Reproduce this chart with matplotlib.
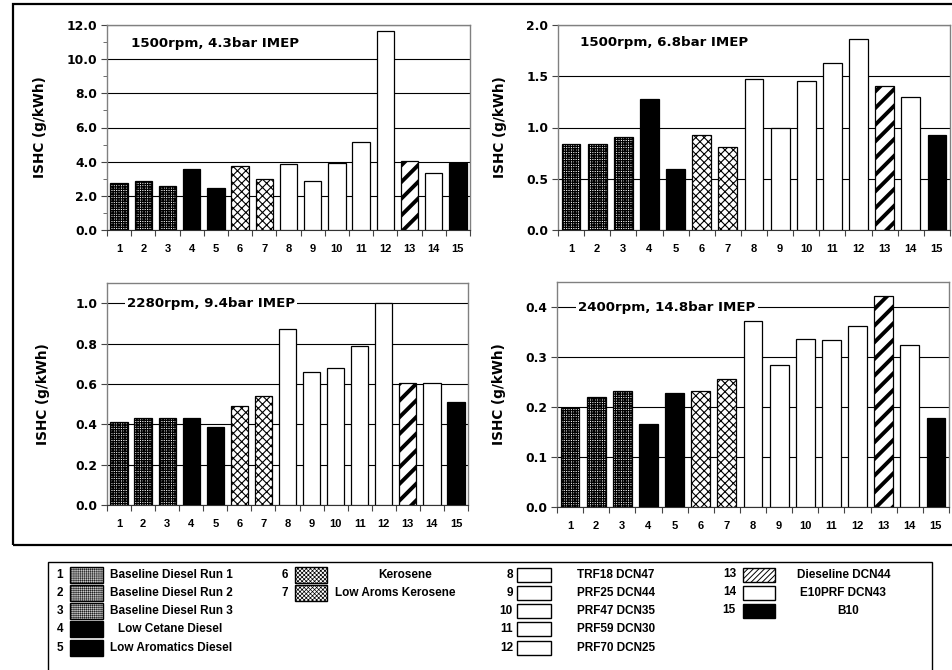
import matplotlib
matplotlib.use("Agg")
import matplotlib.pyplot as plt
from matplotlib.patches import Rectangle
import numpy as np

plt.rcParams['font.family'] = ['Liberation Sans', 'DejaVu Sans']
plt.rcParams['font.weight'] = 'bold'

fuels = list(range(1, 16))
tick_labels = [str(i) for i in fuels]

ishc_1500_43 = [2.73, 2.87, 2.60, 3.59, 2.46, 3.73, 3.00, 3.84, 2.87, 3.92, 5.13, 11.67, 4.06, 3.36, 3.92]
ishc_1500_68 = [0.836, 0.836, 0.907, 1.278, 0.598, 0.927, 0.810, 1.470, 0.998, 1.457, 1.626, 1.867, 1.408, 1.294, 0.927]
ishc_2280_94 = [0.409, 0.429, 0.429, 0.429, 0.387, 0.490, 0.540, 0.870, 0.661, 0.678, 0.789, 1.003, 0.606, 0.606, 0.508]
ishc_2400_148 = [0.199, 0.221, 0.233, 0.166, 0.229, 0.233, 0.256, 0.373, 0.284, 0.337, 0.335, 0.363, 0.423, 0.324, 0.178]

panel_titles = ["1500rpm, 4.3bar IMEP", "1500rpm, 6.8bar IMEP",
                "2280rpm, 9.4bar IMEP", "2400rpm, 14.8bar IMEP"]

legend_names = ["Baseline Diesel Run 1", "Baseline Diesel Run 2", "Baseline Diesel Run 3",
                "Low Cetane Diesel", "Low Aromatics Diesel", "Kerosene", "Low Aroms Kerosene",
                "TRF18 DCN47", "PRF25 DCN44", "PRF47 DCN35", "PRF59 DCN30", "PRF70 DCN25",
                "Dieseline DCN44", "E10PRF DCN43", "B10"]


def bar_style(i):
    if i in (1, 2, 3):
        return ('white', '+' * 7, 0.9)
    if i in (4, 5, 15):
        return ('black', None, 1.0)
    if i in (6, 7):
        return ('white', 'xxxx', 0.8)
    if i == 13:
        return ('white', '//', 2.8)
    return ('white', None, 1.0)


def legend_style(i):
    if i in (1, 2, 3):
        return ('#c8c8c8', '+' * 8, 0.3)
    if i in (4, 5, 15):
        return ('black', None, 1.0)
    if i in (6, 7):
        return ('white', 'x' * 8, 0.5)
    if i == 13:
        return ('white', '/' * 6, 0.7)
    return ('white', None, 1.0)


W, H = 953, 670
fig = plt.figure(figsize=(W / 100, H / 100), dpi=100)


def ax_rect(l, t, r, b):
    return [l / W, 1 - b / H, (r - l) / W, (b - t) / H]


panels = [
    dict(rect=ax_rect(107, 25, 470, 230), vals=ishc_1500_43, ylim=(0, 12),
         yticks=np.arange(0, 12.1, 2), minors=np.arange(1, 12, 2), ylab_x=-0.165,
         tpos=(0.066, 0.91)),
    dict(rect=ax_rect(558, 25, 950, 230), vals=ishc_1500_68, ylim=(0, 2.0),
         yticks=np.arange(0, 2.01, 0.5), minors=None, ylab_x=-0.13,
         tpos=(0.056, 0.917)),
    dict(rect=ax_rect(107, 283, 468, 505), vals=ishc_2280_94, ylim=(0, 1.1),
         yticks=np.arange(0, 1.01, 0.2), minors=None, ylab_x=-0.158,
         tpos=(0.055, 1.0 / 1.1)),
    dict(rect=ax_rect(557, 282, 949, 507), vals=ishc_2400_148, ylim=(0, 0.45),
         yticks=np.arange(0, 0.41, 0.1), minors=None, ylab_x=-0.13,
         tpos=(0.054, 0.4 / 0.45)),
]

x = np.array(fuels, dtype=float)
for pnl, title in zip(panels, panel_titles):
    ax = fig.add_axes(pnl['rect'])
    ax.set_xlim(0.5, 15.5)
    ax.set_ylim(*pnl['ylim'])
    for xi, v in zip(fuels, pnl['vals']):
        fc, hatch, hlw = bar_style(xi)
        with plt.rc_context({'hatch.linewidth': hlw}):
            b = ax.bar(xi, v, width=0.72, color=fc, edgecolor='black', linewidth=0.9,
                       hatch=hatch, zorder=3)
        for p in b.patches:
            try:
                p.set_hatch_linewidth(hlw)
            except AttributeError:
                pass
    yt = pnl['yticks']
    ax.set_yticks(yt)
    ax.set_yticklabels(["%.1f" % t for t in yt])
    if pnl['minors'] is not None:
        ax.set_yticks(pnl['minors'], minor=True)
        ax.tick_params(axis='y', which='minor', length=3, direction='out', color='#555555')
    ax.yaxis.grid(True, which='major', color='black', linewidth=0.8, zorder=0)
    ax.set_axisbelow(True)
    ax.set_xticks(np.arange(0.5, 15.6, 1.0))
    ax.set_xticklabels([])
    ax.set_xticks(x, minor=True)
    ax.set_xticklabels(tick_labels, minor=True)
    ax.tick_params(axis='x', which='major', length=4, direction='out', color='#444444')
    ax.tick_params(axis='x', which='minor', length=0, pad=10, labelsize=8)
    ax.tick_params(axis='y', which='major', length=4, direction='out', pad=3, color='#444444')
    for lab in ax.get_xticklabels(minor=True):
        lab.set_fontweight('bold')
    for lab in ax.get_yticklabels():
        lab.set_fontweight('bold')
        lab.set_fontfamily('DejaVu Sans')
        lab.set_fontsize(8.8)
    for s in ('top', 'right', 'left'):
        ax.spines[s].set_color('#808080')
        ax.spines[s].set_linewidth(1.0)
    ax.spines['bottom'].set_color('#333333')
    ax.set_ylabel("ISHC (g/kWh)", fontsize=9.8, fontweight='bold', family='DejaVu Sans')
    ax.yaxis.set_label_coords(pnl['ylab_x'], 0.5)
    tx, ty = pnl['tpos']
    ax.text(tx, ty, title, transform=ax.transAxes, fontsize=9.6, fontweight='bold',
            family='DejaVu Sans', ha='left', va='center', zorder=5,
            bbox=dict(facecolor='white', edgecolor='none', pad=1.5))

# outer frame around the panels
fig.patches.append(Rectangle((13 / W, 1 - 545 / H), 1.2, (545 - 4) / H, transform=fig.transFigure,
                             fill=False, edgecolor='black', linewidth=1.6, zorder=0))
# legend frame
fig.patches.append(Rectangle((48 / W, 1 - 700 / H), (932 - 48) / W, (700 - 562) / H,
                             transform=fig.transFigure, fill=False, edgecolor='black',
                             linewidth=1.0, zorder=0))

row_y = [575, 593, 611, 629, 648]


def fx(px):
    return px / W


def fy(py):
    return 1 - py / H


def swatch(i, l, r, yc, h=14):
    fc, hatch, hlw = legend_style(i)
    with plt.rc_context({'hatch.linewidth': hlw}):
        p = Rectangle((fx(l), fy(yc + h / 2)), (r - l) / W, h / H, transform=fig.transFigure,
                      facecolor=fc, edgecolor='black', linewidth=1.0, hatch=hatch)
    try:
        p.set_hatch_linewidth(hlw)
    except AttributeError:
        pass
    fig.patches.append(p)


lfs = 8.5
# column 1: fuels 1-5
label_x1 = [110, 110, 110, 118, 110]
for k, i in enumerate([1, 2, 3, 4, 5]):
    y = row_y[k]
    fig.text(fx(60), fy(y), str(i), ha='center', va='center', fontsize=lfs, fontweight='bold')
    swatch(i, 70, 103, y, h=16)
    fig.text(fx(label_x1[k]), fy(y), legend_names[i - 1], ha='left', va='center',
             fontsize=lfs, fontweight='bold')
# column 2: fuels 6-7
for k, i in enumerate([6, 7]):
    y = row_y[k]
    fig.text(fx(288), fy(y), str(i), ha='right', va='center', fontsize=lfs, fontweight='bold')
    swatch(i, 295, 327, y, h=16)
    fig.text(fx(405 if i == 6 else 395), fy(y), legend_names[i - 1], ha='center', va='center',
             fontsize=lfs, fontweight='bold')
# column 3: fuels 8-12
for k, i in enumerate([8, 9, 10, 11, 12]):
    y = row_y[k]
    fig.text(fx(513), fy(y), str(i), ha='right', va='center', fontsize=lfs, fontweight='bold')
    swatch(i, 517, 551, y, h=14)
    fig.text(fx(577), fy(y), legend_names[i - 1], ha='left', va='center',
             fontsize=lfs, fontweight='bold')
# column 4: fuels 13-15
col4_x = [(797, 'left'), (800, 'left'), (848, 'center')]
for k, i in enumerate([13, 14, 15]):
    y = row_y[k]
    fig.text(fx(736), fy(y - 1), str(i), ha='right', va='center', fontsize=lfs, fontweight='bold')
    swatch(i, 743, 775, y, h=14)
    fig.text(fx(col4_x[k][0]), fy(y), legend_names[i - 1], ha=col4_x[k][1], va='center',
             fontsize=lfs, fontweight='bold')

fig.savefig("out.png", dpi=100, facecolor='white')
